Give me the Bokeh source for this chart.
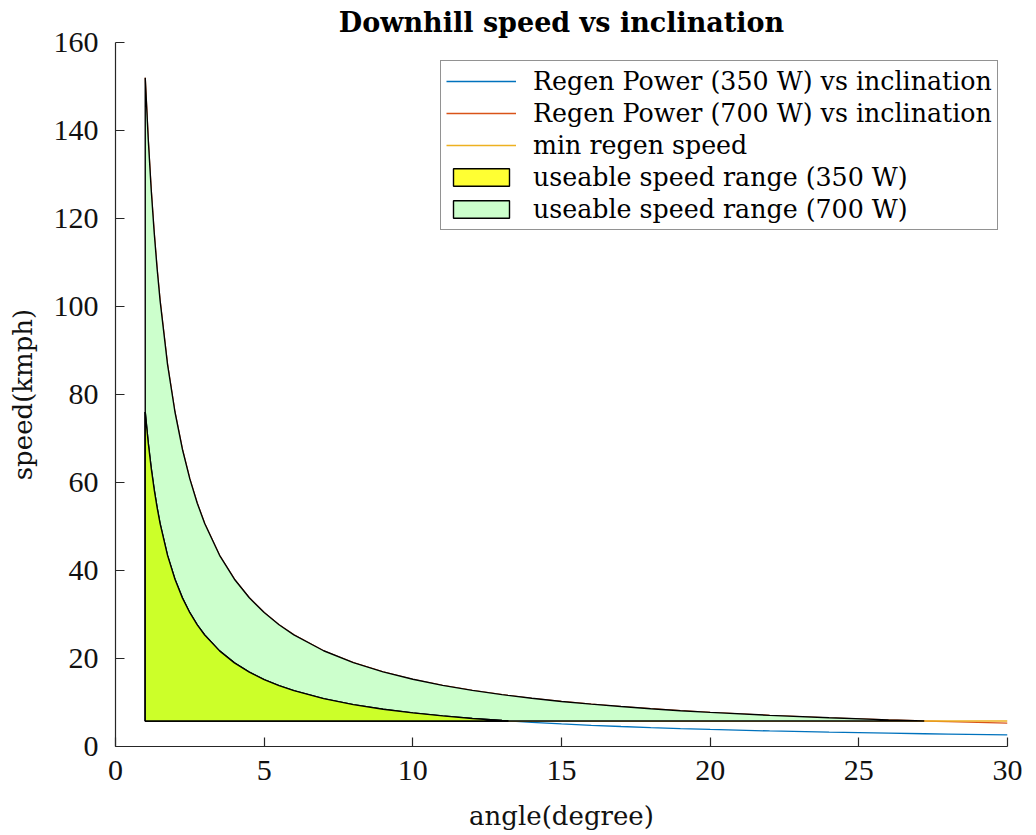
import numpy as np
from bokeh.plotting import figure
from bokeh.models import Range1d, Legend, LegendItem, FixedTicker
from bokeh.embed import file_html
from bokeh.resources import INLINE

# ---- data ----
angle = [1, 1.1, 1.2, 1.3, 1.4, 1.5, 1.75, 2, 2.25, 2.5, 2.75, 3, 3.5, 4, 4.5, 5, 5.5, 6,
         7, 8, 9, 10, 11, 12, 13, 13.2, 14, 15, 16, 17, 18, 19, 20, 22, 24, 26, 27.2, 28, 30]
speed_350 = [76.0, 69.09, 63.33, 58.46, 54.29, 50.67, 43.43, 38.01, 33.78, 30.41, 27.65, 25.34,
             21.73, 19.01, 16.91, 15.22, 13.84, 12.69, 10.88, 9.53, 8.48, 7.64, 6.95, 6.38, 5.90,
             5.81, 5.48, 5.12, 4.81, 4.54, 4.29, 4.07, 3.88, 3.54, 3.26, 3.03, 2.90, 2.83, 2.65]
speed_700 = [152.0, 138.18, 126.66, 116.92, 108.58, 101.34, 86.86, 76.02, 67.56, 60.82, 55.30,
             50.68, 43.46, 38.02, 33.82, 30.44, 27.68, 25.38, 21.76, 19.06, 16.96, 15.28, 13.90,
             12.76, 11.80, 11.62, 10.96, 10.24, 9.62, 9.08, 8.58, 8.14, 7.76, 7.08, 6.52, 6.06,
             5.80, 5.66, 5.30]
min_regen_speed = 5.8
x_ticks = [0, 5, 10, 15, 20, 25, 30]
y_ticks = [0, 20, 40, 60, 80, 100, 120, 140, 160]

labels = ["Regen Power (350 W) vs inclination",
          "Regen Power (700 W) vs inclination",
          "min regen speed",
          "useable speed range (350 W)",
          "useable speed range (700 W)"]

TICK_FONT = "Liberation Serif"
FONT = "DejaVu Serif"
AX = "#262626"

p = figure(width=1030, height=833, x_range=Range1d(0, 30), y_range=Range1d(0, 160),
           output_backend="svg", toolbar_location=None,
           min_border_left=115, min_border_right=23, min_border_top=42, min_border_bottom=87)
p.xgrid.visible = False
p.ygrid.visible = False
p.outline_line_color = None
p.background_fill_color = "white"

p.title.text = "Downhill speed vs inclination"
p.title.align = "center"
p.title.text_font = FONT
p.title.text_font_size = "27px"
p.title.text_font_style = "bold"
p.title.text_color = "black"
p.title.standoff = 9

a = np.array(angle)
s350 = np.array(speed_350)
s700 = np.array(speed_700)

r350 = p.line(a, s350, line_color="#0072BD", line_width=1.3)
r700 = p.line(a, s700, line_color="#D95319", line_width=1.3)
rmin = p.line([a[0], a[-1]], [min_regen_speed, min_regen_speed], line_color="#EDB120", line_width=1.3)


def region(speeds):
    m = speeds >= min_regen_speed - 0.005
    xs = a[m]
    ys = speeds[m]
    px = np.concatenate([[xs[0]], xs, [xs[-1]]])
    py = np.concatenate([[min_regen_speed], ys, [min_regen_speed]])
    return px, py


gx, gy = region(s700)
rg = p.patch(gx, gy, fill_color="#ccffcc", line_color="black", line_width=1.4)
yx, yy = region(s350)
ry = p.patch(yx, yy, fill_color="#ffff33", line_color="black", line_width=1.4)
# overlap of the two ranges (as rendered in the reference)
p.patch(yx, yy, fill_color="#ccff29", line_color="black", line_width=1.4)

legend = Legend(items=[LegendItem(label=labels[0], renderers=[r350]),
                       LegendItem(label=labels[1], renderers=[r700]),
                       LegendItem(label=labels[2], renderers=[rmin]),
                       LegendItem(label=labels[3], renderers=[ry]),
                       LegendItem(label=labels[4], renderers=[rg])],
                location=(325, 516))
legend.label_text_font = FONT
legend.label_text_font_size = "25.3px"
legend.label_text_color = "black"
legend.glyph_width = 70
legend.glyph_height = 22
legend.label_height = 30
legend.label_standoff = 17
legend.spacing = 2
legend.padding = 5
legend.margin = 0
legend.border_line_color = AX
legend.border_line_width = 1
legend.background_fill_alpha = 1
p.add_layout(legend)

p.xaxis.ticker = FixedTicker(ticks=x_ticks)
p.yaxis.ticker = FixedTicker(ticks=y_ticks)
p.xaxis.axis_label = "angle(degree)"
p.yaxis.axis_label = "speed(kmph)"
for ax in [p.xaxis[0], p.yaxis[0]]:
    ax.axis_line_color = AX
    ax.axis_line_width = 1.2
    ax.major_tick_line_color = AX
    ax.major_tick_line_width = 1.2
    ax.major_tick_in = 9
    ax.major_tick_out = 0
    ax.minor_tick_line_color = None
    ax.major_label_text_font = TICK_FONT
    ax.major_label_text_font_size = "30px"
    ax.major_label_text_color = "#111111"
    ax.axis_label_text_font = FONT
    ax.axis_label_text_font_size = "26px"
    ax.axis_label_text_font_style = "normal"
    ax.axis_label_text_color = "#111111"
p.yaxis.major_label_standoff = 17
p.xaxis.major_label_standoff = 14
p.yaxis.axis_label_standoff = 13
p.xaxis.axis_label_standoff = 18

open("out.html", "w").write(file_html(p, INLINE))
